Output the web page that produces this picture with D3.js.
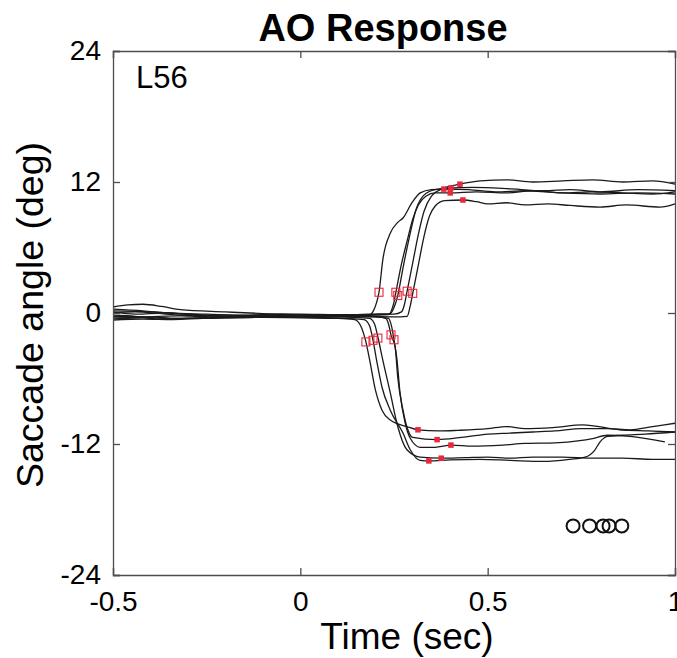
<!DOCTYPE html>
<html>
<head>
<meta charset="utf-8">
<script src="https://cdn.jsdelivr.net/npm/d3@7"></script>
<style>
  body { margin: 0; background: #fff; }
  text { font-family: "Liberation Sans", Arial, sans-serif; }
</style>
</head>
<body>
<div id="graph"></div>
<script>
const xTicks = [-0.5, 0, 0.5, 1]
const yTicks = [-24, -12, 0, 12, 24]

// upward saccade traces, [time (s), angle (deg)]
const upTraces = [
  [[-0.5,0.55],[-0.46,0.75],[-0.42,0.8],[-0.37,0.6],[-0.32,0.3],[-0.2,0.1],[-0.1,-0.05],[0,-0.15],[0.1,-0.2],[0.18,-0.25],[0.195,0.2],[0.203,0.9],[0.21,1.9],[0.22,4.85],[0.24,7.3],[0.26,8.3],[0.274,8.7],[0.298,10.1],[0.32,11.0],[0.35,11.3],[0.383,11.35],[0.45,11.3],[0.52,11.1],[0.6,11.2],[0.7,11.0],[0.8,10.9],[0.9,11.0],[1.0,10.9]],
  [[-0.5,0.2],[-0.4,0.1],[-0.3,-0.1],[-0.2,-0.3],[-0.1,-0.2],[0,-0.3],[0.1,-0.25],[0.2,-0.2],[0.235,-0.15],[0.245,0.4],[0.25,1.0],[0.255,1.9],[0.27,4.5],[0.285,6.6],[0.3,8.6],[0.315,9.9],[0.335,10.7],[0.36,11.0],[0.4,11.0],[0.47,11.1],[0.55,11.0],[0.62,11.2],[0.7,11.0],[0.78,11.1],[0.86,11.0],[0.94,10.9],[1.0,11.1]],
  [[-0.5,-0.2],[-0.44,-0.3],[-0.38,-0.55],[-0.3,-0.5],[-0.2,-0.3],[-0.1,-0.2],[0,-0.1],[0.1,-0.15],[0.2,-0.1],[0.24,-0.05],[0.25,0.5],[0.26,1.6],[0.275,4.3],[0.29,6.8],[0.31,9.6],[0.33,10.8],[0.36,11.3],[0.402,11.45],[0.46,11.5],[0.55,11.4],[0.65,11.2],[0.72,11.3],[0.8,11.1],[0.9,11.3],[1.0,11.2]],
  [[-0.5,0.35],[-0.42,0.2],[-0.35,0.0],[-0.25,-0.1],[-0.15,-0.2],[-0.05,-0.1],[0.05,-0.2],[0.15,-0.15],[0.25,-0.1],[0.27,0.1],[0.278,0.8],[0.285,2.0],[0.3,4.6],[0.315,7.2],[0.33,9.3],[0.35,10.7],[0.38,11.4],[0.426,11.8],[0.48,12.1],[0.55,12.2],[0.62,12.0],[0.7,12.1],[0.78,12.2],[0.86,12.0],[0.94,12.1],[1.0,11.8]],
  [[-0.5,-0.45],[-0.42,-0.4],[-0.35,-0.5],[-0.25,-0.45],[-0.15,-0.35],[-0.05,-0.3],[0.05,-0.25],[0.15,-0.3],[0.25,-0.35],[0.285,-0.3],[0.293,0.6],[0.3,1.8],[0.315,4.4],[0.33,7.0],[0.345,8.9],[0.36,9.8],[0.385,10.3],[0.434,10.35],[0.47,10.2],[0.5,10.0],[0.55,10.1],[0.6,9.9],[0.66,10.0],[0.72,9.85],[0.8,9.7],[0.87,9.9],[0.96,9.7],[1.0,10.0]]
]

// downward saccade traces
const downTraces = [
  [[-0.5,0.1],[-0.44,-0.1],[-0.36,0.0],[-0.28,-0.2],[-0.2,-0.3],[-0.1,-0.4],[0,-0.45],[0.1,-0.5],[0.145,-0.6],[0.16,-1.1],[0.175,-2.65],[0.185,-4.3],[0.2,-7.0],[0.218,-8.9],[0.24,-9.8],[0.284,-10.4],[0.314,-10.7],[0.37,-10.8],[0.42,-10.75],[0.5,-10.6],[0.55,-10.4],[0.6,-10.6],[0.674,-10.5],[0.754,-10.25],[0.853,-10.7],[0.93,-10.8],[1.0,-10.9]],
  [[-0.5,-0.65],[-0.42,-0.55],[-0.34,-0.6],[-0.26,-0.5],[-0.16,-0.45],[-0.06,-0.35],[0.04,-0.4],[0.12,-0.5],[0.17,-0.6],[0.185,-1.2],[0.194,-2.5],[0.205,-4.6],[0.218,-6.8],[0.24,-8.9],[0.274,-11],[0.293,-12.5],[0.32,-13.5],[0.343,-13.55],[0.4,-13.45],[0.48,-13.4],[0.56,-13.5],[0.65,-13.6],[0.72,-13.4],[0.76,-13.2],[0.785,-12.6],[0.8,-11.8],[0.82,-11.3],[0.86,-11.2],[0.92,-11.1],[1.0,-10.9]],
  [[-0.5,-0.3],[-0.4,-0.35],[-0.33,-0.5],[-0.24,-0.45],[-0.14,-0.35],[-0.04,-0.3],[0.06,-0.35],[0.14,-0.4],[0.185,-0.5],[0.198,-1.0],[0.207,-2.2],[0.22,-4.3],[0.24,-7.3],[0.26,-10.4],[0.284,-12.5],[0.32,-13.2],[0.376,-13.3],[0.44,-13.25],[0.5,-13.2],[0.56,-13.3],[0.62,-13.2],[0.7,-13.2],[0.78,-13.3],[0.86,-13.3],[0.94,-13.4],[1.0,-13.4]],
  [[-0.5,-0.55],[-0.44,-0.45],[-0.38,-0.3],[-0.3,-0.25],[-0.2,-0.2],[-0.1,-0.25],[0,-0.2],[0.1,-0.3],[0.2,-0.3],[0.228,-0.5],[0.236,-1.1],[0.242,-2.0],[0.253,-3.1],[0.26,-5.9],[0.274,-8.9],[0.287,-10.7],[0.3,-11.4],[0.365,-11.6],[0.43,-11.4],[0.5,-11.1],[0.56,-11.0],[0.62,-10.9],[0.68,-10.8],[0.75,-10.6],[0.82,-10.6],[0.88,-10.7],[0.94,-10.4],[1.0,-10.1]],
  [[-0.5,0.0],[-0.44,0.1],[-0.36,-0.1],[-0.28,-0.3],[-0.18,-0.35],[-0.08,-0.3],[0.02,-0.35],[0.12,-0.3],[0.2,-0.35],[0.235,-0.5],[0.244,-1.3],[0.25,-2.45],[0.258,-4.3],[0.266,-7.3],[0.28,-10.1],[0.293,-11.45],[0.32,-12.3],[0.36,-12.3],[0.402,-12.1],[0.46,-12.2],[0.54,-12.1],[0.6,-11.95],[0.68,-11.9],[0.746,-11.7],[0.78,-11.5],[0.82,-11.2],[0.88,-11.3],[0.973,-11.8]]
]

// saccade onset (open squares) and end (filled squares)
const onsetPts = [[0.21,1.9],[0.255,1.9],[0.26,1.6],[0.285,2.0],[0.30,1.8],
                  [0.175,-2.65],[0.194,-2.5],[0.207,-2.3],[0.242,-2.0],[0.25,-2.45]]
const endPts = [[0.383,11.35],[0.40,11.0],[0.402,11.45],[0.426,11.8],[0.434,10.35],
                [0.314,-10.7],[0.343,-13.55],[0.376,-13.3],[0.365,-11.6],[0.402,-12.1]]

// target markers
const circleTimes = [0.728, 0.772, 0.808, 0.824, 0.858]
const circleAngle = -19.5

const width = 677
const height = 658
const marginTop = 51
const marginRight = 2
const marginBottom = 83
const marginLeft = 113

const xScale = d3.scaleLinear()
                 .domain([-0.5, 1])
                 .range([marginLeft, width - marginRight])

const yScale = d3.scaleLinear()
                 .domain([-24, 24])
                 .range([height - marginBottom, marginTop])

const svg = d3.create("svg")
              .attr("width", width)
              .attr("height", height)
              .attr("viewBox", `0 0 ${width} ${height}`)

const red = "#e8283c"
const axisColor = "#4d4d4d"

const line = d3.line()
               .x(d => xScale(d[0]))
               .y(d => yScale(d[1]))
               .curve(d3.curveMonotoneX)

// traces
svg.append("g")
   .selectAll("path")
   .data(upTraces.concat(downTraces))
   .enter()
   .append("path")
   .attr("d", line)
   .attr("fill", "none")
   .attr("stroke", "#1a1a1a")
   .attr("stroke-width", 1.3)

// onset markers
svg.append("g")
   .selectAll("rect")
   .data(onsetPts)
   .enter()
   .append("rect")
   .attr("x", d => xScale(d[0]) - 4)
   .attr("y", d => yScale(d[1]) - 4)
   .attr("width", 8)
   .attr("height", 8)
   .attr("fill", "none")
   .attr("stroke", red)
   .attr("stroke-width", 1.1)

// end markers
svg.append("g")
   .selectAll("rect")
   .data(endPts)
   .enter()
   .append("rect")
   .attr("x", d => xScale(d[0]) - 2.75)
   .attr("y", d => yScale(d[1]) - 2.75)
   .attr("width", 5.5)
   .attr("height", 5.5)
   .attr("fill", red)

// circles
svg.append("g")
   .selectAll("circle")
   .data(circleTimes)
   .enter()
   .append("circle")
   .attr("cx", d => xScale(d))
   .attr("cy", yScale(circleAngle))
   .attr("r", 6.5)
   .attr("fill", "none")
   .attr("stroke", "#111")
   .attr("stroke-width", 2)

// axes (MATLAB style box, inward ticks)
const tickLen = 7
const fmt = d => String(d)
const xAxis = d3.axisBottom(xScale).tickValues(xTicks).tickSize(-tickLen).tickFormat(fmt)
const yAxis = d3.axisLeft(yScale).tickValues(yTicks).tickSize(-tickLen).tickFormat(fmt)

const gx = svg.append("g")
   .attr("transform", `translate(0, ${height - marginBottom})`)
   .call(xAxis)

const gy = svg.append("g")
   .attr("transform", `translate(${marginLeft}, 0)`)
   .call(yAxis)

svg.append("g")
   .attr("transform", `translate(0, ${marginTop})`)
   .call(d3.axisTop(xScale).tickValues(xTicks).tickSize(-tickLen).tickFormat(""))

svg.append("g")
   .attr("transform", `translate(${width - marginRight}, 0)`)
   .call(d3.axisRight(yScale).tickValues(yTicks).tickSize(-tickLen).tickFormat(""))

svg.selectAll(".domain, .tick line")
   .attr("stroke", axisColor)
   .attr("stroke-width", 1.3)

gx.selectAll("text")
  .attr("fill", "#000")
  .attr("font-size", 28)
  .attr("y", 16)
  .attr("dy", "0.71em")

gy.selectAll("text")
  .attr("fill", "#000")
  .attr("font-size", 28)
  .attr("x", -12)

// title and labels
svg.append("text")
   .attr("x", 383)
   .attr("y", 41)
   .attr("text-anchor", "middle")
   .attr("font-size", 38)
   .attr("font-weight", "bold")
   .text("AO Response")

svg.append("text")
   .attr("x", 407)
   .attr("y", 649)
   .attr("text-anchor", "middle")
   .attr("font-size", 37)
   .text("Time (sec)")

svg.append("text")
   .attr("transform", `translate(43, 315) rotate(-90)`)
   .attr("text-anchor", "middle")
   .attr("font-size", 37.5)
   .text("Saccade angle (deg)")

svg.append("text")
   .attr("x", 136)
   .attr("y", 88)
   .attr("font-size", 31)
   .text("L56")

document.getElementById("graph").append(svg.node())
</script>
</body>
</html>
